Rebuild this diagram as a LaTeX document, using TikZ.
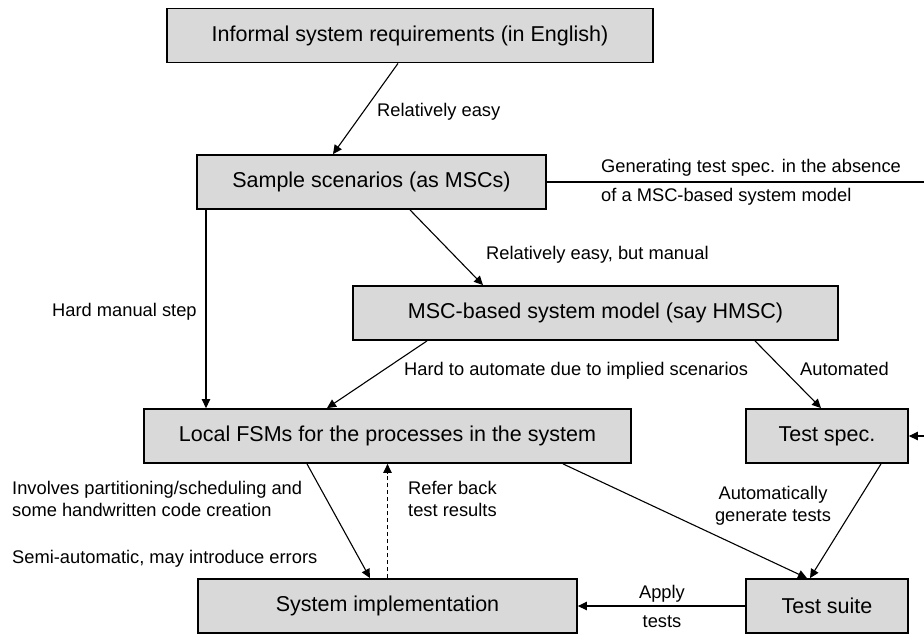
\documentclass[tikz,border=0pt]{standalone}
\usepackage{fontspec}
\setmainfont{Liberation Sans}
\usetikzlibrary{arrows.meta,calc}

\definecolor{boxgray}{HTML}{D9D9D9}

\tikzset{
  box/.style={draw=black, fill=boxgray, line width=1.8pt, minimum height=54pt,
    inner sep=0pt, font=\fontsize{21.5}{25}\selectfont},
  arr/.style={line width=1.1pt, -{Triangle[length=9pt,width=8.5pt]}},
  lbl/.style={inner sep=0pt, font=\fontsize{18.3}{22}\selectfont,
    text height=0.72em, text depth=0.21em},
  lbls/.style={inner sep=0pt, font=\fontsize{18.3}{22}\selectfont},
}

\begin{document}
\begin{tikzpicture}[x=1pt,y=-1pt]
  \useasboundingbox (0,0) rectangle (924,633);
  \clip (0,0) rectangle (924,633);

  % boxes
  \node[box, minimum width=486pt] (req)   at (410,35.5)  {Informal system requirements (in English)};
  \node[box, minimum width=349pt] (samp)  at (371.5,182) {Sample scenarios (as MSCs)};
  \node[box, minimum width=485pt] (hmsc)  at (595.5,313) {MSC-based system model (say HMSC)};
  \node[box, minimum width=487pt] (fsm)   at (387.5,436) {Local FSMs for the processes in the system};
  \node[box, minimum width=162pt] (tspec) at (827,436)   {Test spec.};
  \node[box, minimum width=379pt] (impl)  at (387.5,606) {System implementation};
  \node[box, minimum width=162pt] (suite) at (827,606)   {Test suite};

  % connectors
  \draw[arr] ([xshift=-12pt]req.south) -- ([xshift=-38.5pt]samp.north);
  \draw[arr] ([xshift=-165.5pt]samp.south) -- ([xshift=-181.5pt]fsm.north);
  \draw[arr] ([xshift=38.5pt]samp.south) -- ([xshift=-112.5pt]hmsc.north);
  \draw[arr] ([xshift=-168.5pt]hmsc.south) -- ([xshift=-60.5pt]fsm.north);
  \draw[arr] ([xshift=159.5pt]hmsc.south) -- ([xshift=-6pt]tspec.north);
  \draw[arr] (samp.east) -- ++(404,0) |- (tspec.east);
  \draw[arr] ([xshift=-80.5pt]fsm.south) -- ([xshift=-17.5pt]impl.north);
  \draw[arr, dashed, dash pattern=on 4pt off 3pt] (impl.north) -- (fsm.south);
  \draw[arr] ([xshift=175.5pt]fsm.south) -- ([xshift=-20pt]suite.north);
  \draw[arr] ([xshift=54pt]tspec.south) -- ([xshift=-17pt]suite.north);
  \draw[arr] (suite.west) -- (impl.east);

  % connector labels
  \node[lbl, anchor=west] (l1) at (377,114) {Relatively easy};
  \node[lbl, anchor=west] (l2) at (601,170) {Generating test spec. in the absence};
  \node[lbl, anchor=west] (l3) at (601,199) {of a MSC-based system model};
  \node[lbl, anchor=west] (l4) at (486,257) {Relatively easy, but manual};
  \node[lbl, anchor=west] (l5) at (52,314)  {Hard manual step};
  \node[lbl, anchor=west] (l6) at (404,373) {Hard to automate due to implied scenarios};
  \node[lbl, anchor=west] (l7) at (800,373) {Automated};
  \node[lbls, anchor=west, align=left] (l8) at (12,499)
    {Involves partitioning/scheduling and\\some handwritten code creation};
  \node[lbl, anchor=west] (l9) at (12,561)  {Semi-automatic, may introduce errors};
  \node[lbls, anchor=west, align=left] (l10) at (408,499)
    {Refer back\\test results};
  \node[lbls, align=center] (l11) at (773,506)
    {Automatically\\generate tests};
  \node[lbl] (l12) at (662,596) {Apply};
  \node[lbl] (l13) at (662,625) {tests};
\end{tikzpicture}
\end{document}
